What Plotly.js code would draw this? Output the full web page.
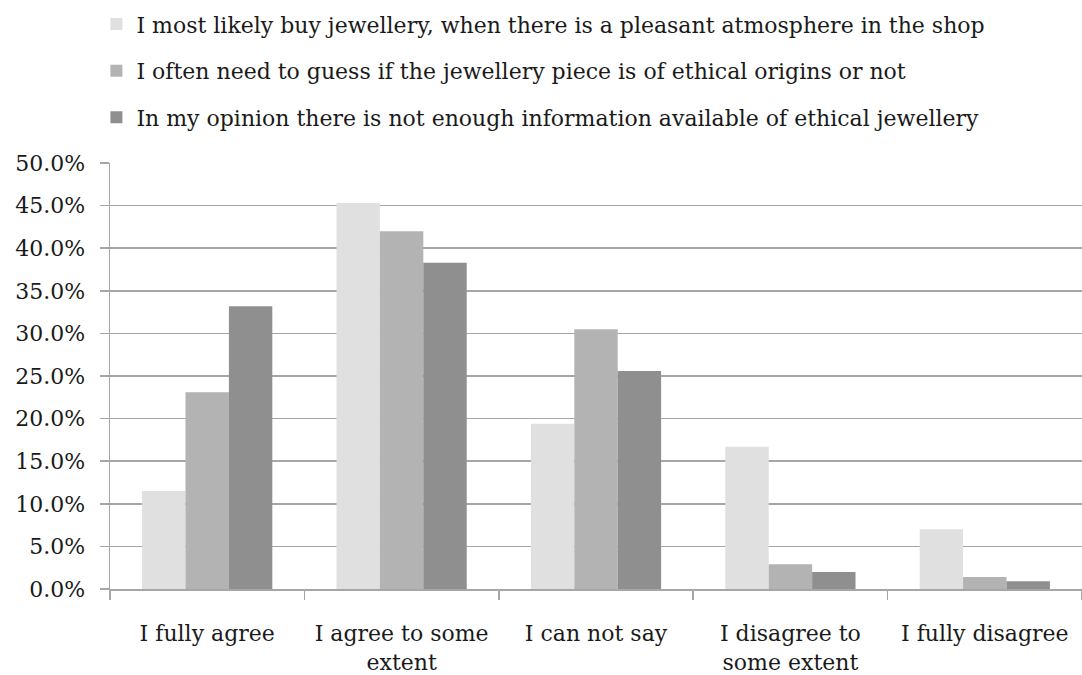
<!DOCTYPE html>
<html>
<head>
<meta charset="utf-8">
<script src="https://cdn.plot.ly/plotly-3.0.1.min.js"></script>
<style>
  html, body { margin: 0; padding: 0; background: #ffffff; }
  #chart { width: 1082px; height: 675px; }
</style>
</head>
<body>
<div id="chart"></div>
<script>
// Answer categories along the x axis
const categories = [
  'I fully agree',
  'I agree to some<br>extent',
  'I can not say',
  'I disagree to<br>some extent',
  'I fully disagree'
];

// Statements (one bar series each)
const seriesNames = [
  'I most likely buy jewellery, when there is a pleasant atmosphere in the shop',
  'I often need to guess if the jewellery piece is of ethical origins or not',
  'In my opinion there is not enough information available of ethical jewellery'
];

// Share of respondents, in percent
const atmosphereValues = [11.5, 45.3, 19.4, 16.7, 7.0];
const guessValues      = [23.1, 42.0, 30.5, 2.9, 1.4];
const infoValues       = [33.2, 38.3, 25.6, 2.0, 0.9];

// Y axis tick values
const yTicks = [0, 5, 10, 15, 20, 25, 30, 35, 40, 45, 50];

const colors = ['#e0e0e0', '#b3b3b3', '#8f8f8f'];
const valueSets = [atmosphereValues, guessValues, infoValues];
const FONT = 'DejaVu Serif, serif';
const FS = 22;

const traces = valueSets.map((vals, i) => ({
  type: 'bar',
  name: seriesNames[i],
  x: categories,
  y: vals,
  marker: { color: colors[i], line: { width: 0 } },
  legendgroup: 'g' + i,
  hoverinfo: 'x+y+name'
}));

const layout = {
  width: 1082,
  height: 675,
  margin: { l: 110, r: 0, t: 163, b: 86 },
  paper_bgcolor: '#ffffff',
  plot_bgcolor: '#ffffff',
  font: { family: FONT, size: FS, color: '#1a1a1a' },
  barmode: 'group',
  bargap: 0.33,
  bargroupgap: 0,
  showlegend: true,
  legend: {
    x: -0.014, xanchor: 'left',
    y: 1.375, yanchor: 'top',
    orientation: 'v',
    traceorder: 'grouped',
    tracegroupgap: 15,
    font: { family: FONT, size: FS, color: '#1a1a1a' },
    itemwidth: 30,
    bgcolor: 'rgba(0,0,0,0)'
  },
  xaxis: {
    type: 'category',
    showgrid: false,
    showline: true,
    linecolor: '#a6a6a6',
    linewidth: 1.5,
    ticks: 'outside',
    tickson: 'boundaries',
    ticklen: 9,
    tickcolor: '#a6a6a6',
    tickwidth: 1.5,
    ticklabelstandoff: 24,
    tickfont: { family: FONT, size: FS, color: '#1a1a1a' },
    fixedrange: true
  },
  yaxis: {
    range: [0, 50],
    tickvals: yTicks,
    ticktext: yTicks.map(v => v.toFixed(1) + '%'),
    showgrid: true,
    gridcolor: '#a6a6a6',
    gridwidth: 1.5,
    zeroline: false,
    showline: true,
    linecolor: '#a6a6a6',
    linewidth: 1.5,
    ticks: 'outside',
    ticklen: 9,
    tickcolor: '#a6a6a6',
    tickwidth: 1.5,
    ticklabelstandoff: 10,
    tickfont: { family: FONT, size: FS, color: '#1a1a1a' },
    fixedrange: true
  }
};

Plotly.newPlot('chart', traces, layout, { displayModeBar: false, staticPlot: true });
</script>
</body>
</html>
